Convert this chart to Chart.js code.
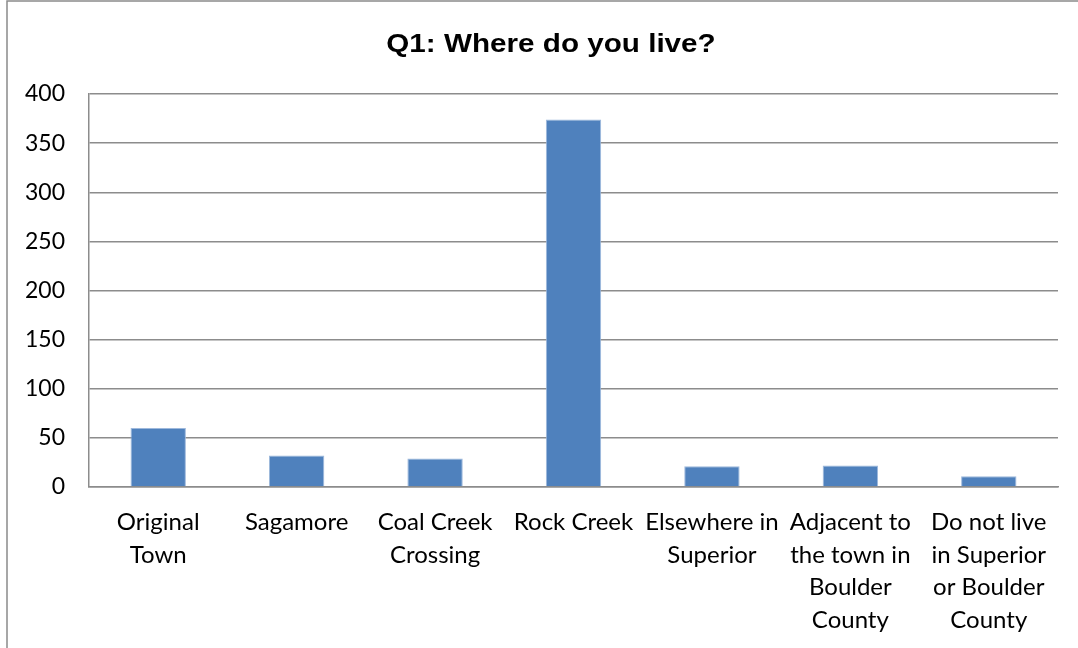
<!DOCTYPE html>
<html>
<head>
<meta charset="utf-8">
<title>Q1: Where do you live?</title>
<script src="https://cdn.jsdelivr.net/npm/chart.js@4/dist/chart.umd.min.js"></script>
<style>
    html, body { margin: 0; padding: 0; background: #fff; }
    #wrap { width: 1078px; height: 648px; position: relative; }
</style>
</head>
<body>
<div id="wrap"><canvas id="chart-q1"></canvas></div>
<script>
const chartTitle = 'Q1: Where do you live?';
const categories = [
    ['Original', 'Town'],
    'Sagamore',
    ['Coal Creek', 'Crossing'],
    'Rock Creek',
    ['Elsewhere in', 'Superior'],
    ['Adjacent to', 'the town in', 'Boulder', 'County'],
    ['Do not live', 'in Superior', 'or Boulder', 'County']
];
const responses = [60, 32, 29, 374, 21, 22, 11];
const yTicks = [0, 50, 100, 150, 200, 250, 300, 350, 400];

const gridGray = '#8c8c8c';

// outer frame of the chart object (its right/bottom edges run off the page)
// plus the heading, which sits centred over the whole object, not the canvas
const framePlugin = {
    id: 'frame',
    beforeDraw(chart) {
        const ctx = chart.ctx;
        ctx.save();
        ctx.strokeStyle = '#8a8a8a';
        ctx.lineWidth = 1.5;
        ctx.strokeRect(7, 1, 2000, 2000);
        ctx.restore();
    },
    afterDraw(chart) {
        const ctx = chart.ctx;
        ctx.save();
        ctx.translate(551, 45);
        ctx.scale(1.14, 1);
        ctx.font = 'bold 26px "Liberation Sans", Arial, sans-serif';
        ctx.fillStyle = '#000';
        ctx.textAlign = 'center';
        ctx.textBaseline = 'middle';
        ctx.fillText(chartTitle, 0, 0);
        ctx.restore();
    }
};

const ctx = document.getElementById('chart-q1').getContext('2d');
new Chart(ctx, {
    type: 'bar',
    data: {
        labels: categories,
        datasets: [{
            label: 'Responses',
            data: responses,
            backgroundColor: '#4f81bd',
            borderColor: '#9db8dc',
            borderWidth: 1,
            barPercentage: 0.4,
            categoryPercentage: 1
        }]
    },
    options: {
        responsive: true,
        maintainAspectRatio: false,
        animation: false,
        layout: {
            padding: { left: 0, right: 20, top: 94, bottom: 0 }
        },
        plugins: {
            legend: { display: false },
            tooltip: { enabled: false },
            title: { display: false }
        },
        scales: {
            x: {
                grid: { display: false, drawTicks: false },
                border: { display: true, color: gridGray, width: 1.5 },
                ticks: {
                    color: '#000',
                    padding: 19,
                    maxRotation: 0,
                    autoSkip: false,
                    font: { family: 'Lato, "Open Sans", sans-serif', size: 24, lineHeight: 1.36 }
                },
                afterFit(scale) {
                    scale.height = 161;
                }
            },
            y: {
                min: 0,
                max: 400,
                afterBuildTicks(scale) {
                    scale.ticks = yTicks.map(v => ({ value: v }));
                },
                grid: { color: gridGray, lineWidth: 1.5, drawTicks: false },
                border: { display: true, color: gridGray, width: 1.5 },
                ticks: {
                    color: '#000',
                    padding: 24,
                    font: { family: 'Lato, "Open Sans", sans-serif', size: 23 }
                },
                afterFit(scale) {
                    scale.width = 89;
                }
            }
        }
    },
    plugins: [framePlugin]
});
</script>
</body>
</html>
